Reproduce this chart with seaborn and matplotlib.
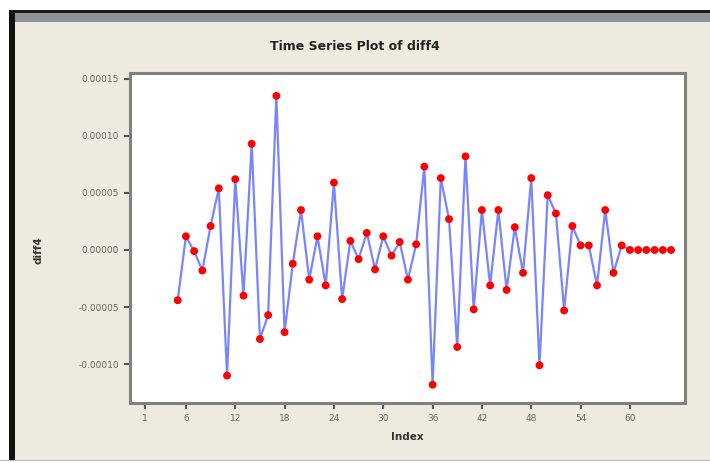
import numpy as np
import pandas as pd
import seaborn as sns
from matplotlib import pyplot as plt
from matplotlib.patches import Rectangle

# valores de diff4 (em unidades de 1e-5), índices 5..65
indice = list(range(5, 66))
diff4 = [
    -4.4, 1.2, -0.1, -1.8, 2.1, 5.4, -11.0, 6.2, -4.0, 9.3,
    -7.8, -5.7, 13.5, -7.2, -1.2, 3.5, -2.6, 1.2, -3.1, 5.9,
    -4.3, 0.8, -0.8, 1.5, -1.7, 1.2, -0.5, 0.7, -2.6, 0.5,
    7.3, -11.8, 6.3, 2.7, -8.5, 8.2, -5.2, 3.5, -3.1, 3.5,
    -3.5, 2.0, -2.0, 6.3, -10.1, 4.8, 3.2, -5.3, 2.1, 0.4,
    0.4, -3.1, 3.5, -2.0, 0.4, 0.0, 0.0, 0.0, 0.0, 0.0, 0.0,
]
xticks = [1, 6, 12, 18, 24, 30, 36, 42, 48, 54, 60]
yticks = [-0.00010, -0.00005, 0.0, 0.00005, 0.00010, 0.00015]

df = pd.DataFrame({'Index': indice, 'diff4': np.array(diff4) * 1e-5})

sns.set_style('white')
fundo = '#EEEAE0'
fig = plt.figure(figsize=(7.1, 4.63), dpi=100, facecolor=fundo)

# moldura da janela (captura de tela)
fig.patches.append(Rectangle((0, 1 - 10 / 463), 1, 10 / 463, transform=fig.transFigure,
                             facecolor='white', edgecolor='none', zorder=0))
fig.patches.append(Rectangle((0, 1 - 22 / 463), 1, 11 / 463, transform=fig.transFigure,
                             facecolor='#8E939A', edgecolor='none', zorder=0))
fig.patches.append(Rectangle((0, 1 - 13 / 463), 1, 3 / 463, transform=fig.transFigure,
                             facecolor='#1A1A1A', edgecolor='none', zorder=0))
fig.patches.append(Rectangle((0, 0), 9 / 710, 1 - 10 / 463, transform=fig.transFigure,
                             facecolor='white', edgecolor='none', zorder=0))
fig.patches.append(Rectangle((9 / 710, 0), 6 / 710, 1 - 10 / 463, transform=fig.transFigure,
                             facecolor='#111111', edgecolor='none', zorder=0))
fig.patches.append(Rectangle((0, 0), 1, 3 / 463, transform=fig.transFigure,
                             facecolor='#B8B8B8', edgecolor='none', zorder=0))
fig.patches.append(Rectangle((0, 0), 1, 2 / 463, transform=fig.transFigure,
                             facecolor='white', edgecolor='none', zorder=0))

ax = fig.add_axes([130 / 710, 1 - 403 / 463, 555 / 710, 330 / 463])
ax.set_facecolor('white')

sns.lineplot(data=df, x='Index', y='diff4', color='#6070FF', linewidth=1.6,
             alpha=0.85, ax=ax, zorder=2)
sns.scatterplot(data=df, x='Index', y='diff4', color='#FF0000', s=32,
                edgecolor='none', ax=ax, zorder=3)

ax.set_xlim(-0.8, 66.7)
ax.set_ylim(-13.4e-5, 15.5e-5)
ax.set_xticks(xticks)
ax.set_xticklabels([str(t) for t in xticks])
ax.set_yticks(yticks)
ax.set_yticklabels([f'{t:.5f}' for t in yticks])
ax.tick_params(axis='both', direction='out', length=4, width=1.5, color='#555555',
               labelsize=6.5, labelcolor='#666666', bottom=True, left=True, pad=4)

for s in ax.spines.values():
    s.set_visible(True)
    s.set_color('#808080')
    s.set_linewidth(2.2)

ax.set_xlabel('')
ax.set_ylabel('')
fig.text(407 / 710, 1 - 437 / 463, 'Index', ha='center', va='center',
         fontsize=7.5, fontweight='bold', color='#333333')
fig.text(38 / 710, 0.46, 'diff4', ha='center', va='center', rotation=90,
         fontsize=7.5, fontweight='bold', color='#333333')
fig.text(355 / 710, 1 - 47 / 463, 'Time Series Plot of diff4', ha='center', va='center',
         fontsize=9, fontweight='bold', color='#222222')

fig.savefig('out.png', dpi=100, facecolor=fundo)
